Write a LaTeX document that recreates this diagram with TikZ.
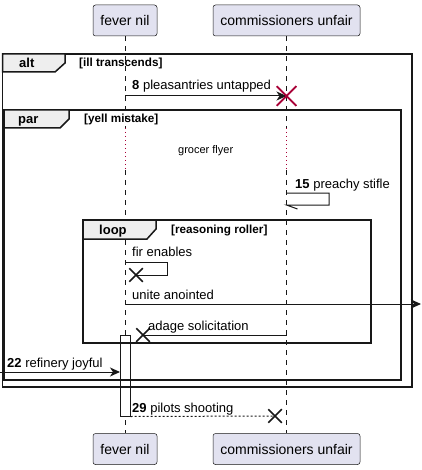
\documentclass[tikz,border=0pt]{standalone}
\usepackage{fontspec}
\setmainfont{Liberation Sans}
\usetikzlibrary{arrows.meta}
\usetikzlibrary{positioning}
\usetikzlibrary{shapes.misc}
\definecolor{partfill}{HTML}{E2E2F0}
\definecolor{linegray}{HTML}{181818}
\definecolor{tabgray}{HTML}{EEEEEE}
\definecolor{killred}{HTML}{A80036}

\begin{document}
\begin{tikzpicture}[x=1pt,y=-1pt,
	part/.style={draw=linegray,line width=0.5pt,fill=partfill,rounded corners=2.5pt,minimum height=31pt,inner sep=0pt,font=\fontsize{14}{16}\selectfont},
	life/.style={draw=linegray,line width=0.5pt,dash pattern=on 5pt off 5pt},
	wait/.style={draw=killred,line width=0.8pt,dash pattern=on 1pt off 3pt},
	msg/.style={draw=linegray,line width=1pt,-{Stealth[length=10pt,width=9pt,inset=3pt]}},
	ret/.style={draw=linegray,line width=1pt,dash pattern=on 2pt off 2pt},
	selfm/.style={draw=linegray,line width=1pt},
	frm/.style={draw=linegray,line width=1.5pt},
	tab/.style={draw=linegray,line width=1.5pt,fill=tabgray},
	lbl/.style={anchor=base west,inner sep=0pt,font=\fontsize{13}{15}\selectfont},
	tag/.style={anchor=base west,inner sep=0pt,font=\bfseries\fontsize{13}{15}\selectfont},
	cond/.style={anchor=base west,inner sep=0pt,font=\bfseries\fontsize{11.7}{13}\selectfont},
	kill/.style={cross out,draw=killred,line width=1.5pt,minimum size=18pt,inner sep=0pt},
	lost/.style={cross out,draw=linegray,line width=1.5pt,minimum size=12pt,inner sep=0pt},
	act/.style={draw=linegray,line width=1pt,fill=white,inner sep=0pt,minimum width=10pt}]
	\useasboundingbox (0,0) rectangle (421,470);
	%
	\node[part,minimum width=64pt] (fn) at (125,20.5) {fever nil};
	\node[part,minimum width=147pt] (cu) at (286.5,20.5) {commissioners unfair};
	\node[part,minimum width=64pt] (fnB) at (125,449) {fever nil};
	\node[part,minimum width=147pt] (cuB) at (286.5,449) {commissioners unfair};
	%
	\coordinate (fnW1) at (125,128);
	\coordinate (fnW2) at (125,170);
	\coordinate (cuW1) at (286.5,128);
	\coordinate (cuW2) at (286.5,170);
	\path[life] (fn) -- (fnW1);
	\path[wait] (fnW1) -- (fnW2);
	\path[life] (fnW2) -- (fnB);
	\path[life] (cu) -- (cuW1);
	\path[wait] (cuW1) -- (cuW2);
	\path[life] (cuW2) -- (cuB);
	%
	\node[act,minimum height=81pt] (fnA) at (125,375.5) {};
	%
	% frames
	\draw[frm] (2.5,54) rectangle (412,387);
	\draw[tab] (2.5,54) -- (65,54) -- (65,63) -- (55,72) -- (2.5,72) -- cycle;
	\node[tag] (altT) at (19,68) {alt};
	\node[cond] (altC) at (79,67) {[ill transcends]};
	%
	\draw[frm] (4,110) rectangle (401,380);
	\draw[tab] (4,110) -- (69,110) -- (69,119) -- (60,128) -- (4,128) -- cycle;
	\node[tag] (parT) at (18,124) {par};
	\node[cond] (parC) at (84,123) {[yell mistake]};
	%
	\draw[frm] (83,220) rectangle (371,343);
	\draw[tab] (83,220) -- (156,220) -- (156,229) -- (147,239) -- (83,239) -- cycle;
	\node[tag] (loopT) at (99,234) {loop};
	\node[cond] (loopC) at (171,233) {[reasoning roller]};
	%
	% messages
	\coordinate (m8) at (125,96);
	\node[kill] (kill8) at (286.5,96) {};
	\path (m8) edge[msg] (kill8.center);
	\node[kill] at (kill8) {};
	\node[lbl] (t8) at (132,90) {{\bfseries 8} pleasantries untapped};
	%
	\node[lbl,font=\fontsize{11}{13}\selectfont] (tW) at (178,154) {grocer flyer};
	%
	\coordinate (s15) at (286.5,193);
	\draw[selfm] (s15) -- ++(42.5,0) -- ++(0,12) -- ++(-42.5,0) -- ++(11,4);
	\node[lbl] (t15) at (295,188) {{\bfseries 15} preachy stifle};
	%
	\coordinate (s9) at (125,262);
	\node[lost] (lost9) at (136,275) {};
	\draw[selfm] (s9) -- (167,262) -- (167,275) -- (lost9.center);
	\node[lbl] (t9) at (132,256) {fir enables};
	%
	\coordinate (u0) at (125,304);
	\coordinate (u1) at (421,304);
	\path (u0) edge[msg] (u1);
	\node[lbl] (tU) at (132,299) {unite anointed};
	%
	\coordinate (a0) at (286.5,335);
	\node[lost] (lostA) at (143,335) {};
	\path (a0) edge[selfm] (lostA.center);
	\node[lbl] (tA) at (148,330) {adage solicitation};
	%
	\coordinate (r0) at (0,372);
	\coordinate (r1) at (120,372);
	\path (r0) edge[msg] (r1);
	\node[lbl] (t22) at (7,367) {{\bfseries 22} refinery joyful};
	%
	\node[lost] (lost29) at (275,416) {};
	\path (fnA.south east) edge[ret] (lost29.center);
	\node[lbl] (t29) at (132,412) {{\bfseries 29} pilots shooting};
\end{tikzpicture}
\end{document}
